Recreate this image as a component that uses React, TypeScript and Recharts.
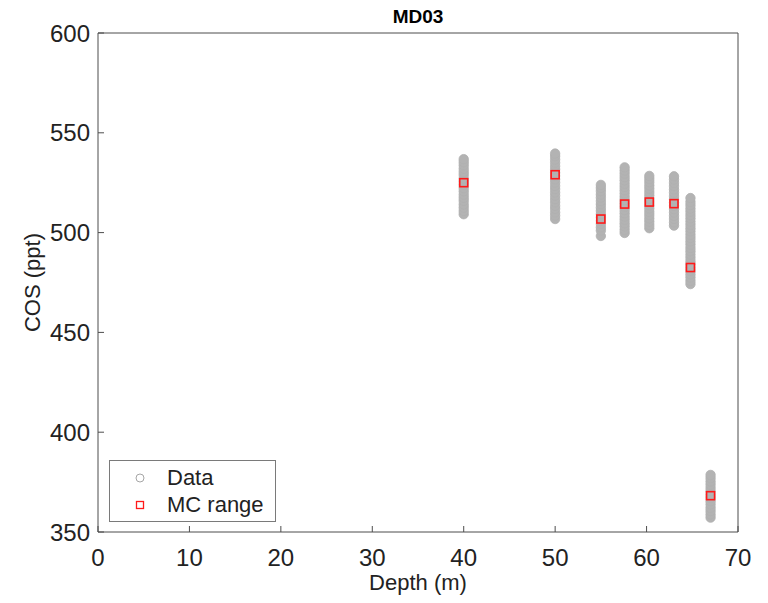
import React from 'react';
import { ScatterChart, Scatter, XAxis, YAxis } from 'recharts';

// --- data ---
const depths = [40.0, 50.0, 55.0, 57.6, 60.3, 63.0, 64.8, 67.0];

const cosCol1 = [509.2, 510.8, 512.5, 514.1, 515.9, 517.4, 519.0, 520.7, 522.3, 524.0, 525.6, 527.1, 528.9, 530.4, 532.0, 533.7, 535.3, 536.8];
const cosCol2 = [506.8, 508.5, 510.1, 511.9, 513.4, 515.2, 516.8, 518.5, 520.1, 521.8, 523.4, 525.1, 526.7, 528.4, 530.0, 531.7, 533.3, 535.0, 536.6, 538.3, 539.6];
const cosCol3 = [498.3, 501.0, 502.6, 504.3, 505.9, 507.6, 509.2, 510.9, 512.5, 514.2, 515.8, 517.5, 519.1, 520.8, 522.4, 523.9];
const cosCol4 = [499.8, 501.4, 503.1, 504.7, 506.4, 508.0, 509.7, 511.3, 513.0, 514.6, 516.3, 517.9, 519.6, 521.2, 522.9, 524.5, 526.2, 527.8, 529.5, 531.1, 532.7];
const cosCol5 = [502.2, 503.8, 505.5, 507.1, 508.8, 510.4, 512.1, 513.7, 515.4, 517.0, 518.7, 520.3, 522.0, 523.6, 525.3, 526.9, 528.4];
const cosCol6 = [503.5, 505.1, 506.8, 508.4, 510.1, 511.7, 513.4, 515.0, 516.7, 518.3, 520.0, 521.6, 523.3, 524.9, 526.6, 528.2];
const cosCol7 = [474.2, 475.8, 477.5, 479.1, 480.8, 482.4, 484.1, 485.7, 487.4, 489.0, 490.7, 492.3, 494.0, 495.6, 497.3, 498.9, 500.6, 502.2, 503.9, 505.5, 507.2, 508.8, 510.5, 512.1, 513.8, 515.4, 517.3];
const cosCol8 = [357.2, 358.8, 360.5, 362.1, 363.8, 365.4, 367.1, 368.7, 370.4, 372.0, 373.7, 375.3, 377.0, 378.6];

const columns = [cosCol1, cosCol2, cosCol3, cosCol4, cosCol5, cosCol6, cosCol7, cosCol8];
const mcCentres = [525.0, 529.0, 506.8, 514.3, 515.3, 514.5, 482.5, 368.2];

const xTicks = [0, 10, 20, 30, 40, 50, 60, 70];
const yTicks = [350, 400, 450, 500, 550, 600];

const dataPoints = columns.flatMap((col, i) => col.map((cos) => ({ depth: depths[i], cos })));
const mcPoints = depths.map((depth, i) => ({ depth, cos: mcCentres[i] }));

// --- layout ---
const W = 768;
const H = 603;
const PLOT = { left: 98, right: 738, top: 33, bottom: 532 };
const FONT = '"Liberation Sans", Arial, Helvetica, sans-serif';
const AXIS = '#4d4d4d';
const TEXT = '#222';
const TICK_LEN = 6;

const DataDot = (props: any) => {
  const { cx, cy } = props;
  if (cx == null || cy == null) return null;
  return <circle cx={cx} cy={cy} r={4.7} fill="#b3b3b3" stroke="#b0b0b0" strokeWidth={0.8} />;
};

const McSquare = (props: any) => {
  const { cx, cy } = props;
  if (cx == null || cy == null) return null;
  return <rect x={cx - 4} y={cy - 4} width={8} height={8} fill="none" stroke="#ff1a1a" strokeWidth={1.6} />;
};

const BottomTick = (props: any) => {
  const { x, payload } = props;
  return (
    <g>
      <line x1={x} x2={x} y1={PLOT.bottom} y2={PLOT.bottom - TICK_LEN} stroke={AXIS} />
      <text x={x} y={PLOT.bottom + 34} textAnchor="middle" fontSize={24} fill={TEXT} fontFamily={FONT}>
        {payload.value}
      </text>
    </g>
  );
};

const TopTick = (props: any) => {
  const { x } = props;
  return <line x1={x} x2={x} y1={PLOT.top} y2={PLOT.top + TICK_LEN} stroke={AXIS} />;
};

const LeftTick = (props: any) => {
  const { y, payload } = props;
  return (
    <g>
      <line x1={PLOT.left} x2={PLOT.left + TICK_LEN} y1={y} y2={y} stroke={AXIS} />
      <text x={PLOT.left - 8} y={y + 8.5} textAnchor="end" fontSize={24} fill={TEXT} fontFamily={FONT}>
        {payload.value}
      </text>
    </g>
  );
};

const RightTick = (props: any) => {
  const { y } = props;
  return <line x1={PLOT.right} x2={PLOT.right - TICK_LEN} y1={y} y2={y} stroke={AXIS} />;
};

const LegendBox = () => (
  <div
    style={{
      position: 'absolute',
      left: 109,
      top: 460,
      width: 167,
      height: 62,
      border: '1px solid #7a7a7a',
      background: '#fff',
      fontFamily: FONT,
      fontSize: 22,
      color: TEXT,
      boxSizing: 'border-box',
      paddingTop: 3,
    }}
  >
    <div style={{ display: 'flex', alignItems: 'center', height: 27 }}>
      <svg width={57} height={20}>
        <circle cx={30} cy={10} r={4} fill="none" stroke="#a6a6a6" strokeWidth={1} />
      </svg>
      <span>Data</span>
    </div>
    <div style={{ display: 'flex', alignItems: 'center', height: 28 }}>
      <svg width={57} height={20}>
        <rect x={26.5} y={6.5} width={7} height={7} fill="none" stroke="#ff1a1a" strokeWidth={1.3} />
      </svg>
      <span>MC range</span>
    </div>
  </div>
);

export default function App() {
  return (
    <div style={{ position: 'absolute', left: 0, top: 0, width: W, height: H, background: '#fff' }}>
      <ScatterChart
        width={W}
        height={H}
        margin={{ top: PLOT.top - 5, right: W - PLOT.right - 10, bottom: H - PLOT.bottom - 40, left: PLOT.left - 60 }}
      >
        <XAxis
          xAxisId="bottom"
          dataKey="depth"
          type="number"
          domain={[0, 70]}
          ticks={xTicks}
          orientation="bottom"
          height={40}
          stroke={AXIS}
          tickLine={false}
          tick={<BottomTick />}
          allowDataOverflow
        />
        <XAxis
          xAxisId="top"
          dataKey="depth"
          type="number"
          domain={[0, 70]}
          ticks={xTicks}
          orientation="top"
          height={5}
          stroke={AXIS}
          tickLine={false}
          tick={<TopTick />}
        />
        <YAxis
          yAxisId="left"
          dataKey="cos"
          type="number"
          domain={[350, 600]}
          ticks={yTicks}
          orientation="left"
          width={60}
          stroke={AXIS}
          tickLine={false}
          tick={<LeftTick />}
          allowDataOverflow
        />
        <YAxis
          yAxisId="right"
          dataKey="cos"
          type="number"
          domain={[350, 600]}
          ticks={yTicks}
          orientation="right"
          width={10}
          stroke={AXIS}
          tickLine={false}
          tick={<RightTick />}
        />
        <Scatter
          name="Data"
          data={dataPoints}
          xAxisId="bottom"
          yAxisId="left"
          shape={<DataDot />}
          isAnimationActive={false}
        />
        <Scatter
          name="MC range"
          data={mcPoints}
          xAxisId="bottom"
          yAxisId="left"
          shape={<McSquare />}
          isAnimationActive={false}
        />
        <text x={(PLOT.left + PLOT.right) / 2} y={23} textAnchor="middle" fontSize={19} fontWeight="bold" fill="#000" fontFamily={FONT}>
          MD03
        </text>
        <text x={(PLOT.left + PLOT.right) / 2} y={590} textAnchor="middle" fontSize={22} fill={TEXT} fontFamily={FONT}>
          Depth (m)
        </text>
        <text
          x={40}
          y={(PLOT.top + PLOT.bottom) / 2}
          textAnchor="middle"
          fontSize={22}
          fill={TEXT}
          fontFamily={FONT}
          transform={`rotate(-90, 40, ${(PLOT.top + PLOT.bottom) / 2})`}
        >
          COS (ppt)
        </text>
      </ScatterChart>
      <LegendBox />
    </div>
  );
}
